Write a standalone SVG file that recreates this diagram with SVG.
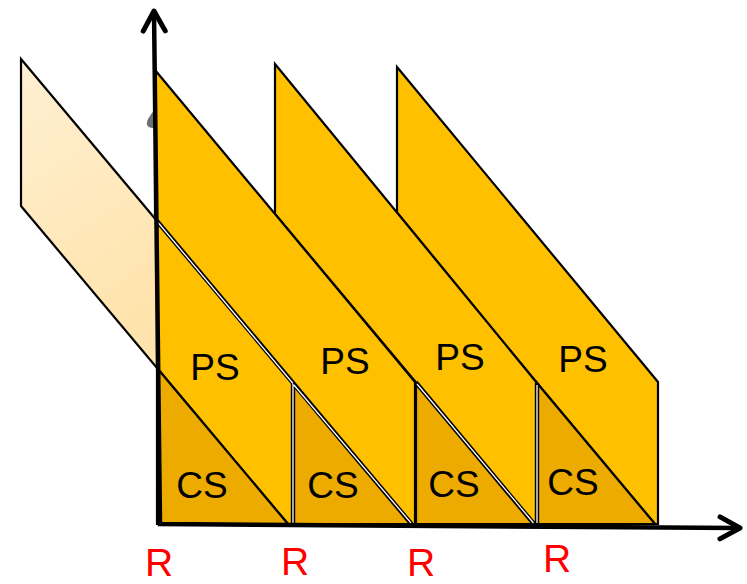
<svg xmlns="http://www.w3.org/2000/svg" width="747" height="584" viewBox="0 0 747 584">
  <style>
    .band { fill: #FFC000; stroke: #000; stroke-width: 2.2; stroke-linejoin: miter; }
    .cs { fill: #EDAB00; stroke: #000; stroke-width: 2.2; }
    .faded { fill: url(#fadeGrad); stroke: #000; stroke-width: 2.2; }
    .lbl { font-family: "Liberation Sans", Arial, sans-serif; font-size: 37px; fill: #000; text-anchor: middle; }
    .rl { font-family: "Liberation Sans", Arial, sans-serif; font-size: 39px; fill: #FF0000; text-anchor: middle; }
    .seam-b { fill: none; stroke: #000; stroke-width: 4.4; }
    .seam-w { fill: none; stroke: #fff; stroke-width: 1.3; }
    .axis { fill: none; stroke: #000; stroke-width: 4.5; stroke-linejoin: miter; }
  </style>
  <defs>
    <linearGradient id="fadeGrad" x1="0" y1="0" x2="0.3" y2="1">
      <stop offset="0" stop-color="#FFF0D3"/>
      <stop offset="1" stop-color="#FFE3AC"/>
    </linearGradient>
    <marker id="chev" markerUnits="userSpaceOnUse" viewBox="0 0 28 30" markerWidth="28" markerHeight="30" refX="23" refY="15" orient="auto-start-reverse" overflow="visible">
      <path d="M3,4 L23,15 L3,26" fill="none" stroke="#000" stroke-width="5" stroke-linecap="round" stroke-linejoin="round"/>
    </marker>
  </defs>

  <g id="band-faded">
    <polygon class="faded" points="21,59 157,221 157,368 21,206"/>
  </g>

  <g id="band-C">
    <polygon class="band" points="397,67 658,382 658,524 655,524 537,383 397,212.5"/>
    <text class="lbl" x="583" y="372">PS</text>
  </g>
  <g id="band-B">
    <polygon class="band" points="275,64 537,383 537,524 534,524 416,382.5 275,214"/>
    <text class="lbl" x="460" y="370">PS</text>
  </g>
  <g id="band-A">
    <polygon class="band" points="155,70 415,382 415,524 411.5,524 155,218.6"/>
    <text class="lbl" x="345" y="374">PS</text>
  </g>
  <g id="band-0">
    <polygon class="band" points="157,221 293,383 293,524 288,524 157,368"/>
    <text class="lbl" x="215" y="380">PS</text>
  </g>

  <g id="cs-1">
    <polygon class="cs" points="157,368 288,524 157,524"/>
    <text class="lbl" x="202" y="498">CS</text>
  </g>
  <g id="cs-2">
    <polygon class="cs" points="293,383 411.5,524 293,524"/>
    <text class="lbl" x="333" y="498">CS</text>
  </g>
  <g id="cs-3">
    <polygon class="cs" points="416,382.5 534,524 416,524"/>
    <text class="lbl" x="454" y="497">CS</text>
  </g>
  <g id="cs-4">
    <polygon class="cs" points="537,383 655,524 537,524"/>
    <text class="lbl" x="573" y="495">CS</text>
  </g>

  <g id="seams">
    <path class="seam-b" d="M157,221 L293,383 M293,383 L293,527 M293,383 L411.5,524 M416,382.5 L534,524 M537,383 L537,524"/>
    <path class="seam-w" d="M158,222.5 L293,383.5 M293,384 L293,524 M294,385 L411,523 M417,384 L533.5,523 M537,385 L537,523"/>
  </g>

  <g id="marker-blob">
    <path d="M155,109 C152,113 148,118 147,122 C146,127 150,128 155,128 Z" fill="#6f6f6f"/>
  </g>

  <g id="connectors">
    <path class="axis" d="M154,11 L160,524 L740,528" marker-start="url(#chev)" marker-end="url(#chev)"/>
  </g>

  <g id="axis-labels">
    <text class="rl" x="159" y="576">R</text>
    <text class="rl" x="295" y="575">R</text>
    <text class="rl" x="421" y="576">R</text>
    <text class="rl" x="557" y="572">R</text>
  </g>
</svg>
